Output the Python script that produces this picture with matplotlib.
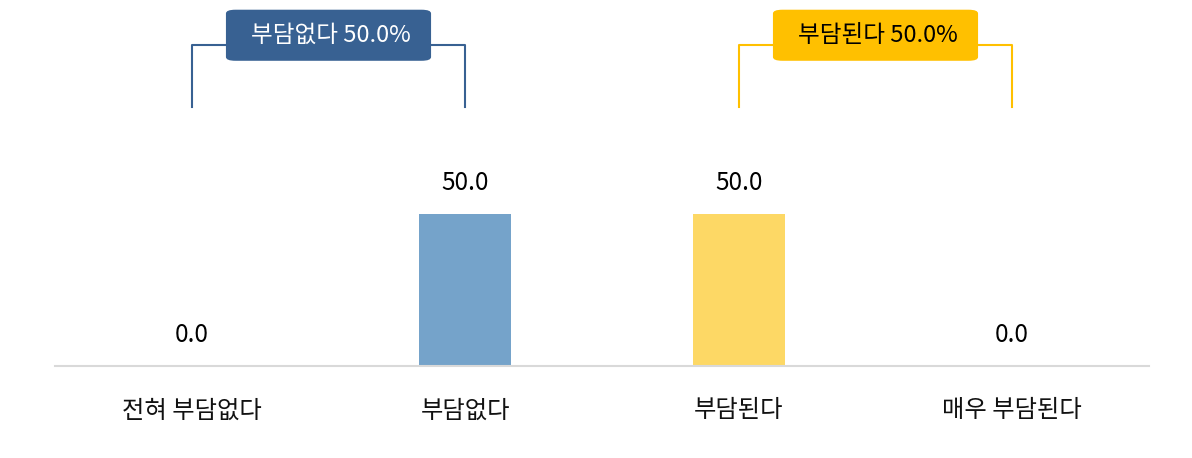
import matplotlib
matplotlib.use("Agg")
import matplotlib.pyplot as plt
from matplotlib.patches import FancyBboxPatch

plt.rcParams["font.family"] = ["Noto Sans CJK KR", "DejaVu Sans"]

# ==============================
# data
# ==============================
categories = ["전혀 부담없다", "부담없다", "부담된다", "매우 부담된다"]
values = [0.0, 50.0, 50.0, 0.0]
bar_colors = ["#75A3CA", "#75A3CA", "#FDD865", "#FDD865"]

group_names = ["부담없다", "부담된다"]
group_members = [(0, 1), (2, 3)]
group_colors = ["#386192", "#FFC000"]
group_text_colors = ["white", "black"]

# ==============================
# figure
# ==============================
fig = plt.figure(figsize=(11.92, 4.58), dpi=100)
ax = fig.add_axes([55 / 1192, 92 / 458, 1094 / 1192, 364.8 / 458])

x = list(range(len(categories)))
ax.bar(x, values, width=0.335, color=bar_colors, zorder=2)

for xi, v in zip(x, values):
    ax.annotate(f"{v:.1f}", (xi, v), xytext=(0, 22.5), textcoords="offset points",
                ha="center", va="center", fontsize=17.5, color="black")

ax.set_xlim(-0.5, 3.5)
ax.set_ylim(0, 120)
ax.set_xticks(x)
ax.set_xticklabels(categories, fontsize=17.5, color="#111111", fontweight="medium")
for lab in ax.get_xticklabels():
    lab.set_va("center")
ax.tick_params(axis="x", length=0, pad=32)
ax.set_yticks([])
for s in ["top", "right", "left"]:
    ax.spines[s].set_visible(False)
ax.spines["bottom"].set_color("#D9D9D9")
ax.spines["bottom"].set_linewidth(1.5)

# ==============================
# group brackets
# ==============================
line_y = 105.6
line_bottom = 85.2
box_w = 0.75
box_h = 16.8
box_cy = 108.8

for name, (a, b), col, tcol in zip(group_names, group_members, group_colors, group_text_colors):
    total = values[a] + values[b]
    ax.plot([a, a, b, b], [line_bottom, line_y, line_y, line_bottom],
            color=col, lw=1.5, clip_on=False, zorder=1)
    cx = (a + b) / 2
    box = FancyBboxPatch((cx - box_w / 2, box_cy - box_h / 2), box_w, box_h,
                         boxstyle="round,pad=0,rounding_size=0.035",
                         mutation_aspect=35, facecolor=col, edgecolor="none",
                         clip_on=False, zorder=3)
    ax.add_patch(box)
    ax.text(cx + 0.01, box_cy, f"{name} {total:.1f}%", ha="center", va="center",
            fontsize=17, color=tcol, zorder=4)

fig.savefig("out.png", dpi=100)
